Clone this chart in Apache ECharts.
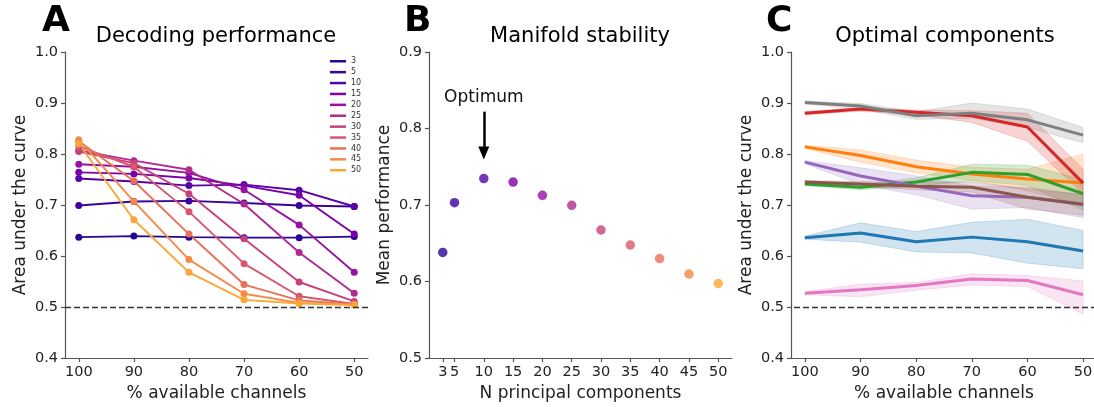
<!DOCTYPE html>
<html>
<head>
<meta charset="utf-8">
<script src="https://cdn.jsdelivr.net/npm/echarts@6/dist/echarts.min.js"></script>
<style>
html, body { margin: 0; padding: 0; background: #fff; }
#chart { width: 1094px; height: 407px; }
</style>
</head>
<body>
<div id="chart"></div>
<script>
// % available channels (x of panels A and C)
const channels = [100, 90, 80, 70, 60, 50]
// number of principal components
const components = [3, 5, 10, 15, 20, 25, 30, 35, 40, 45, 50]

// A: AUC per component count, one row per entry of components
const decoding = [
	[0.637, 0.639, 0.637, 0.636, 0.636, 0.638],
	[0.699, 0.707, 0.708, 0.704, 0.699, 0.697],
	[0.752, 0.746, 0.738, 0.740, 0.729, 0.697],
	[0.764, 0.761, 0.753, 0.738, 0.719, 0.643],
	[0.780, 0.775, 0.763, 0.730, 0.661, 0.568],
	[0.807, 0.787, 0.769, 0.702, 0.607, 0.527],
	[0.805, 0.782, 0.722, 0.634, 0.549, 0.511],
	[0.815, 0.775, 0.687, 0.585, 0.521, 0.506],
	[0.825, 0.747, 0.643, 0.544, 0.513, 0.505],
	[0.828, 0.707, 0.593, 0.526, 0.508, 0.505],
	[0.820, 0.671, 0.568, 0.514, 0.507, 0.504]
]

// B: mean performance per component count
const meanPerf = [0.638, 0.703, 0.7345, 0.730, 0.7127, 0.6996, 0.6673, 0.6477, 0.630, 0.6098, 0.5973]
const optimum = 10

// C: mean line and lower / upper band per group
const optNames = ["blue", "orange", "green", "red", "purple", "brown", "pink", "gray"]
const optMean = [
	[0.636, 0.645, 0.628, 0.637, 0.628, 0.610],
	[0.814, 0.797, 0.775, 0.761, 0.751, 0.743],
	[0.741, 0.735, 0.745, 0.764, 0.760, 0.722],
	[0.880, 0.888, 0.882, 0.875, 0.853, 0.743],
	[0.784, 0.757, 0.737, 0.718, 0.715, 0.702],
	[0.745, 0.741, 0.737, 0.735, 0.715, 0.701],
	[0.527, 0.534, 0.542, 0.555, 0.552, 0.524],
	[0.901, 0.894, 0.875, 0.880, 0.867, 0.837]
]
const optLow = [
	[0.633, 0.627, 0.608, 0.606, 0.586, 0.575],
	[0.811, 0.784, 0.763, 0.748, 0.728, 0.700],
	[0.738, 0.730, 0.737, 0.748, 0.738, 0.690],
	[0.877, 0.884, 0.877, 0.862, 0.825, 0.722],
	[0.781, 0.740, 0.720, 0.692, 0.695, 0.675],
	[0.742, 0.736, 0.730, 0.725, 0.692, 0.680],
	[0.524, 0.520, 0.533, 0.543, 0.540, 0.486],
	[0.898, 0.888, 0.868, 0.870, 0.852, 0.822]
]
const optHigh = [
	[0.639, 0.665, 0.648, 0.666, 0.672, 0.650],
	[0.817, 0.808, 0.788, 0.774, 0.770, 0.800],
	[0.744, 0.740, 0.753, 0.780, 0.778, 0.750],
	[0.883, 0.891, 0.886, 0.885, 0.880, 0.770],
	[0.787, 0.773, 0.757, 0.737, 0.735, 0.720],
	[0.748, 0.746, 0.745, 0.745, 0.732, 0.720],
	[0.530, 0.545, 0.548, 0.565, 0.562, 0.551],
	[0.904, 0.899, 0.883, 0.900, 0.888, 0.852]
]

const plasma = ["#2a0593", "#3a049a", "#5602a4", "#7a02a8", "#9612a1", "#b12a90", "#c7427c", "#d8576b", "#e87159", "#f48a46", "#fca636"]
const tab10 = {
	blue: "#1f77b4", orange: "#ff7f0e", green: "#2ca02c", red: "#d62728",
	purple: "#9467bd", brown: "#8c564b", pink: "#e377c2", gray: "#7f7f7f"
}
const FONT = "'DejaVu Sans', sans-serif"

const hexA = (hex, a) => {
	const n = parseInt(hex.slice(1), 16)
	return "rgba(" + (n >> 16) + "," + ((n >> 8) & 255) + "," + (n & 255) + "," + a + ")"
}

const chart = echarts.init(document.getElementById("chart"))

const tick = (extra) => Object.assign({ show: true, length: 4, lineStyle: { color: "#555", width: 1.2 } }, extra)

const axisBase = (extra) => Object.assign({
	axisLine: { show: true, onZero: false, lineStyle: { color: "#555", width: 1.2 } },
	axisTick: tick({}),
	splitLine: { show: false },
	nameLocation: "middle",
	nameTextStyle: { color: "#222", fontSize: 17, fontFamily: FONT }
}, extra)

const label = (extra) => Object.assign({ color: "#222", fontSize: 14.5, fontFamily: FONT, margin: 7 }, extra)

const grids = [
	{ left: 65, top: 52, width: 303, height: 306, outerBoundsMode: "none" },
	{ left: 429, top: 52, width: 303, height: 306, outerBoundsMode: "none" },
	{ left: 791, top: 52, width: 306, height: 306, outerBoundsMode: "none" }
]

const xAxes = [
	axisBase({
		type: "value", gridIndex: 0, min: 47.5, max: 102.5, inverse: true,
		name: "% available channels", nameGap: 26,
		axisLabel: label({ customValues: channels }),
		axisTick: tick({ customValues: channels })
	}),
	axisBase({
		type: "value", gridIndex: 1, min: 0.65, max: 52.35,
		name: "N principal components", nameGap: 26,
		axisLabel: label({ customValues: components }),
		axisTick: tick({ customValues: components })
	}),
	axisBase({
		type: "value", gridIndex: 2, min: 47.5, max: 102.5, inverse: true,
		name: "% available channels", nameGap: 26,
		axisLabel: label({ customValues: channels }),
		axisTick: tick({ customValues: channels })
	})
]

const yAxes = [
	axisBase({
		type: "value", gridIndex: 0, min: 0.4, max: 1.0, interval: 0.1,
		name: "Area under the curve", nameGap: 36,
		axisLabel: label({ formatter: v => v.toFixed(1) })
	}),
	axisBase({
		type: "value", gridIndex: 1, min: 0.5, max: 0.9, interval: 0.1,
		name: "Mean performance", nameGap: 36,
		axisLabel: label({ formatter: v => v.toFixed(1) })
	}),
	axisBase({
		type: "value", gridIndex: 2, min: 0.4, max: 1.0, interval: 0.1,
		name: "Area under the curve", nameGap: 36,
		axisLabel: label({ formatter: v => v.toFixed(1) })
	})
]

const chanceLine = {
	silent: true,
	symbol: "none",
	label: { show: false },
	lineStyle: { color: "#333", width: 1.3, type: [6, 3] },
	data: [{ yAxis: 0.5 }]
}

let series = []

// panel A
components.forEach((c, i) => {
	series.push({
		name: String(c),
		type: "line",
		xAxisIndex: 0,
		yAxisIndex: 0,
		data: channels.map((x, j) => [x, decoding[i][j]]),
		symbol: "circle",
		symbolSize: 7,
		lineStyle: { width: 1.9, color: plasma[i] },
		itemStyle: { color: plasma[i] },
		z: 3,
		markLine: i === 0 ? chanceLine : undefined
	})
})

// panel B
series.push({
	name: "mean",
	type: "scatter",
	xAxisIndex: 1,
	yAxisIndex: 1,
	data: components.map((c, i) => ({ value: [c, meanPerf[i]], itemStyle: { color: plasma[i] } })),
	symbolSize: 9.5,
	markLine: {
		silent: true,
		symbol: ["none", "triangle"],
		symbolSize: [11, 13],
		lineStyle: { color: "#000", width: 2.5, type: "solid" },
		label: { show: true, position: "start", formatter: "Optimum", fontSize: 17, color: "#111", fontFamily: FONT, distance: 6 },
		data: [[{ coord: [optimum, 0.822] }, { coord: [optimum, 0.768] }]]
	}
})

// panel C: bands
optNames.forEach((n, k) => {
	series.push({
		name: n + " band",
		type: "custom",
		xAxisIndex: 2,
		yAxisIndex: 2,
		encode: { x: 0, y: [1, 2] },
		data: channels.map((x, j) => [x, optLow[k][j], optHigh[k][j]]),
		z: 1,
		renderItem: (params, api) => {
			if (params.dataIndexInside !== 0) return
			const top = []
			const bottom = []
			for (let i = 0; i < params.dataInsideLength; i++) {
				top.push(api.coord([api.value(0, i), api.value(2, i)]))
				bottom.push(api.coord([api.value(0, i), api.value(1, i)]))
			}
			return {
				type: "polygon",
				shape: { points: top.concat(bottom.reverse()) },
				style: { fill: hexA(tab10[n], 0.2), stroke: hexA(tab10[n], 0.25), lineWidth: 0.8 }
			}
		}
	})
})

// panel C: mean lines
optNames.forEach((n, k) => {
	series.push({
		name: n,
		type: "line",
		xAxisIndex: 2,
		yAxisIndex: 2,
		data: channels.map((x, j) => [x, optMean[k][j]]),
		symbol: "none",
		lineStyle: { width: 3, color: tab10[n] },
		itemStyle: { color: tab10[n] },
		z: 3,
		markLine: k === 0 ? chanceLine : undefined
	})
})

const titleText = (text, x, y, size, bold, align) => ({
	type: "text",
	x: x,
	y: y,
	silent: true,
	style: {
		text: text,
		fill: "#000",
		fontSize: size,
		fontWeight: bold ? "bold" : "normal",
		fontFamily: FONT,
		align: align,
		verticalAlign: "middle"
	}
})

let option = {
	animation: false,
	backgroundColor: "#fff",
	textStyle: { fontFamily: FONT },
	grid: grids,
	xAxis: xAxes,
	yAxis: yAxes,
	legend: {
		data: components.map(String),
		orient: "vertical",
		left: 330,
		top: 57,
		padding: 0,
		itemWidth: 16,
		itemHeight: 2.5,
		itemGap: 2.4,
		icon: "rect",
		selectedMode: false,
		textStyle: { fontSize: 8, color: "#333", lineHeight: 8.5, fontFamily: FONT }
	},
	graphic: [
		titleText("A", 42, 22, 36, true, "left"),
		titleText("Decoding performance", 216, 37, 21, false, "center"),
		titleText("B", 404, 22, 36, true, "left"),
		titleText("Manifold stability", 580, 37, 21, false, "center"),
		titleText("C", 766, 22, 36, true, "left"),
		titleText("Optimal components", 945, 37, 21, false, "center")
	],
	series: series
}

chart.setOption(option)
</script>
</body>
</html>
